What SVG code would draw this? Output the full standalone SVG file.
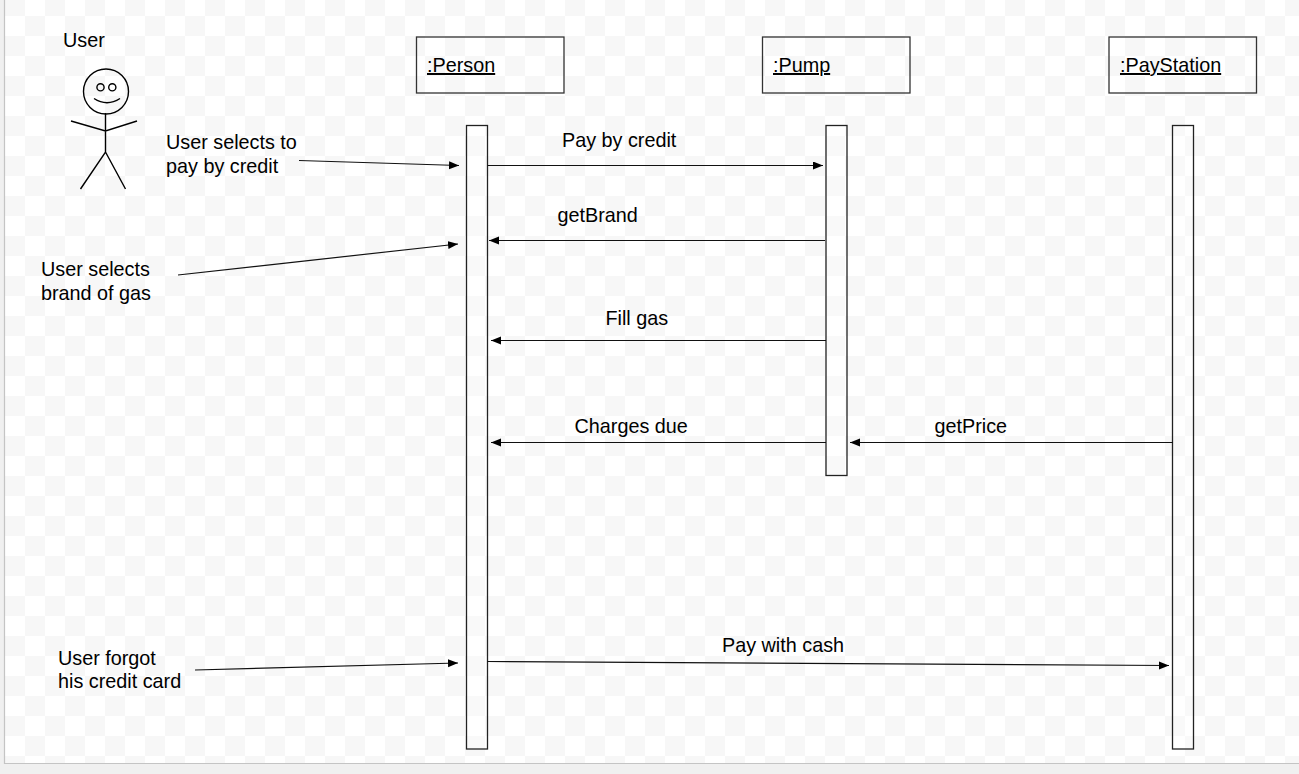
<svg xmlns="http://www.w3.org/2000/svg" width="1299" height="774" viewBox="0 0 1299 774">
<style>
text{font-family:"Liberation Sans",Arial,sans-serif;font-size:19.8px;fill:#000}
.b{fill:none;stroke:#333;stroke-width:1.3}
.a{fill:#fff;fill-opacity:.3;stroke:#222;stroke-width:1.3}
.l{fill:none;stroke:#111;stroke-width:1.2}
.s{fill:none;stroke:#000;stroke-width:1.4}
</style>
<defs>
<pattern id="ck" x="5" y="-4" width="40" height="40" patternUnits="userSpaceOnUse">
<rect width="40" height="40" fill="#fff"/>
<rect x="0" y="0" width="20" height="20" fill="#f7f7f7"/>
<rect x="20" y="20" width="20" height="20" fill="#f7f7f7"/>
</pattern>
<marker id="ah" markerUnits="userSpaceOnUse" markerWidth="12" markerHeight="10" refX="10" refY="4" orient="auto">
<path d="M0 0L10 4L0 8z" fill="#000"/>
</marker>
</defs>
<rect width="1299" height="774" fill="#f0f0f0"/>
<rect x="5" y="0" width="1294" height="763" fill="url(#ck)"/>
<path d="M4.5 0V763.5H1299" fill="none" stroke="#c4c4c4" stroke-width="1.2"/>
<g id="actor">
<text x="63" y="47">User</text>
<circle class="s" cx="106" cy="91.5" r="22.500"/>
<circle class="s" cx="100.500" cy="87.300" r="3.600"/>
<circle class="s" cx="112.300" cy="87.300" r="3.600"/>
<path class="s" d="M94 98.500Q107 107 120 98.500"/>
<path class="s" d="M105.500 113V152M71 121L105.500 131L137 121M80.500 189L105.500 152L125.500 189"/>
</g>
<g id="person">
<rect class="b" x="416.500" y="37" width="147.500" height="56"/>
<text x="427" y="72" text-decoration="underline">:Person</text>
<rect class="a" x="466.500" y="125.500" width="21" height="623.500"/>
</g>
<g id="pump">
<rect class="b" x="762.500" y="37" width="147.500" height="56"/>
<text x="773" y="72" text-decoration="underline">:Pump</text>
<rect class="a" x="826" y="125.500" width="21" height="350"/>
</g>
<g id="paystation">
<rect class="b" x="1109" y="37" width="147.500" height="56"/>
<text x="1120" y="72" text-decoration="underline">:PayStation</text>
<rect class="a" x="1172.500" y="125.500" width="21" height="623.500"/>
</g>
<g id="notes">
<text x="166" y="149">User selects to</text>
<text x="166" y="173">pay by credit</text>
<text x="41" y="276">User selects</text>
<text x="41" y="300">brand of gas</text>
<text x="58" y="665">User forgot</text>
<text x="58" y="688">his credit card</text>
</g>
<g id="connectors">
<path class="l" marker-end="url(#ah)" d="M299 160.500L459 165.500"/>
<path class="l" marker-end="url(#ah)" d="M178 275L458 244"/>
<path class="l" marker-end="url(#ah)" d="M195 670L458 663"/>
<path class="l" marker-end="url(#ah)" d="M487.500 165.500H823"/>
<path class="l" marker-end="url(#ah)" d="M825 240.500H489"/>
<path class="l" marker-end="url(#ah)" d="M826 340.500H491"/>
<path class="l" marker-end="url(#ah)" d="M826 442.500H491"/>
<path class="l" marker-end="url(#ah)" d="M1173 442.500H850"/>
<path class="l" marker-end="url(#ah)" d="M487.500 661.500L1169 665.500"/>
</g>
<g id="labels">
<text x="562" y="147">Pay by credit</text>
<text x="557.500" y="222">getBrand</text>
<text x="605.500" y="325">Fill gas</text>
<text x="574.500" y="433">Charges due</text>
<text x="934.500" y="433">getPrice</text>
<text x="722" y="652">Pay with cash</text>
</g>
</svg>
